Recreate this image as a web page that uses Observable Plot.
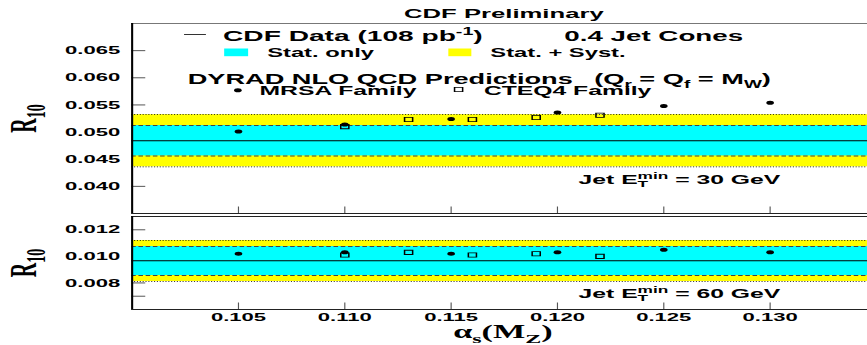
<!DOCTYPE html>
<html><head><meta charset="utf-8">
<script src="https://cdn.jsdelivr.net/npm/d3@7"></script>
<script src="https://cdn.jsdelivr.net/npm/@observablehq/plot@0.6"></script>
<style>
body{margin:0;background:#fff;overflow:hidden}
#chart svg{display:block}
</style>
</head><body><div id="chart"></div>
<script>
// ---- data ----
const xDomain = [0.100, 0.1346];
const xTicks = [0.105, 0.110, 0.115, 0.120, 0.125, 0.130];
const mrsaAlpha = [0.105, 0.110, 0.115, 0.120, 0.125, 0.130];
const cteqAlpha = [0.110, 0.113, 0.116, 0.119, 0.122];
// Jet ET min = 30 GeV
const mrsaR30 = [0.0501, 0.0514, 0.0524, 0.0536, 0.0548, 0.0554];
const cteqR30 = [0.0510, 0.0523, 0.0523, 0.0527, 0.0531];
// Jet ET min = 60 GeV
const mrsaR60 = [0.0102, 0.0103, 0.0102, 0.0103, 0.0105, 0.0103];
const cteqR60 = [0.0101, 0.0103, 0.0101, 0.0102, 0.0100];
// CDF data: [30 GeV, 60 GeV]
const cdfR10   = [0.0484, 0.00967];
const statLow  = [0.0456, 0.00856];
const statHigh = [0.0512, 0.01074];
const systLow  = [0.0436, 0.00811];
const systHigh = [0.0532, 0.01119];
// axes
const yDomain30 = [0.035, 0.070];
const yTicks30 = [0.035, 0.040, 0.045, 0.050, 0.055, 0.060, 0.065, 0.070];
const yLabels30 = [0.040, 0.045, 0.050, 0.055, 0.060, 0.065];
const yDomain60 = [0.006, 0.013];
const yTicks60 = [0.006, 0.007, 0.008, 0.009, 0.010, 0.011, 0.012, 0.013];
const yLabels60 = [0.008, 0.010, 0.012];
const etMin = [30, 60];

// ---- layout (logical units, stretched horizontally afterwards) ----
const OUTW = 867;
const W = 456;
const ML = 69;
const SANS = "Liberation Sans, Arial, sans-serif";
const SERIF = "Liberation Serif, Times New Roman, serif";

const ann = (txt, dx, dy, size, opts = {}) =>
  Plot.text([txt], {text: d => d, frameAnchor: "top-left", dx, dy, fontSize: size,
    textAnchor: "start", lineAnchor: "bottom", fill: "#000", ...opts});

function panel(i, cfg) {
  const {height, mt, mb, yDomain, yTicks, yLabels, mrsaR, cteqR, extra, topStroke} = cfg;
  const ph = height - mt - mb;
  const band = [{lo: systLow[i], hi: systHigh[i], slo: statLow[i], shi: statHigh[i], c: cdfR10[i]}];
  const mrsa = mrsaAlpha.map((a, k) => ({a, r: mrsaR[k]}));
  const cteq = cteqAlpha.map((a, k) => ({a, r: cteqR[k]}));
  const marks = [
    Plot.tickY(yTicks, {y: d => d, stroke: "#555", strokeWidth: 1, insetRight: W - ML - 7.4}),
    Plot.tickX(xTicks, {x: d => d, stroke: "#555", strokeWidth: 0.6, insetTop: ph - 6.5}),
    Plot.rect(band, {x1: () => xDomain[0], x2: () => xDomain[1], y1: d => d.lo, y2: d => d.hi, fill: "#ffff00"}),
    Plot.rect(band, {x1: () => xDomain[0], x2: () => xDomain[1], y1: d => d.slo, y2: d => d.shi, fill: "#00ffff"}),
    Plot.ruleY(band, {y: d => d.lo, stroke: "#000", strokeWidth: 0.8, strokeDasharray: "0.6,0.9"}),
    Plot.ruleY(band, {y: d => d.hi, stroke: "#000", strokeWidth: 0.8, strokeDasharray: "0.6,0.9"}),
    Plot.ruleY(band, {y: d => d.slo, stroke: "#444", strokeWidth: 1, strokeDasharray: "2.4,1.4"}),
    Plot.ruleY(band, {y: d => d.shi, stroke: "#444", strokeWidth: 1, strokeDasharray: "2.4,1.4"}),
    Plot.ruleY(band, {y: d => d.c, stroke: "#000", strokeWidth: 1}),
    Plot.dot(cteq, {x: "a", y: "r", symbol: "square", r: 2.4, stroke: "#000", fill: "none", strokeWidth: 0.8}),
    Plot.dot(mrsa, {x: "a", y: "r", r: 2, fill: "#000", stroke: "none"}),
    Plot.ruleY([yDomain[1]], {stroke: topStroke, strokeWidth: 1}),
    Plot.ruleY([yDomain[0]], {stroke: "#222", strokeWidth: 1}),
    Plot.ruleX([xDomain[0]], {stroke: "#000", strokeWidth: 1.1}),
    Plot.text(yLabels, {y: d => d, text: d => d.toFixed(3), frameAnchor: "left", textAnchor: "end",
      dx: -6.25, fontSize: 11.6, fill: "#000"}),
    Plot.text(["R_{10}"], {text: d => d, frameAnchor: "left", dx: -50.6, rotate: -90,
      fontSize: 20, fontFamily: SERIF, lineAnchor: "bottom", textAnchor: "middle", fill: "#000"}),
    ann(`Jet E^{min}_{T} = ${etMin[i]} GeV`, 234.8, cfg.etDy, 13),
    ...extra
  ];
  return Plot.plot({
    width: W, height, marginLeft: ML, marginRight: 0, marginTop: mt, marginBottom: mb,
    x: {domain: xDomain, axis: null},
    y: {domain: yDomain, axis: null},
    style: {fontFamily: SANS, fontWeight: "bold", background: "white", color: "#000", overflow: "visible"},
    marks
  });
}

const legendMarks = [
  ann("CDF Preliminary", 195.5, -5.5, 13.5, {textAnchor: "middle"}),
  Plot.frame({fill: "#333", stroke: null, insetLeft: 27.3, insetRight: W - ML - 38.8, insetTop: 10.5, insetBottom: 190 - 11.5}),
  ann("CDF Data (108 pb^{-1})", 47.8, 17.7, 14.8),
  ann("0.4 Jet Cones", 227.3, 17.7, 14.6),
  Plot.frame({fill: "#00ffff", stroke: null, insetLeft: 48.4, insetRight: W - ML - 61, insetTop: 25, insetBottom: 190 - 32.7}),
  ann("Stat. only", 71, 33.3, 12.5),
  Plot.frame({fill: "#ffff00", stroke: null, insetLeft: 166.3, insetRight: W - ML - 178.4, insetTop: 25, insetBottom: 190 - 32.7}),
  ann("Stat. + Syst.", 188.4, 33.3, 12.5),
  ann("DYRAD NLO QCD Predictions", 29.2, 60.5, 14.3),
  ann("(Q_{r} = Q_{f} = M_{W})", 243, 60.5, 14.3),
  Plot.dot([0], {frameAnchor: "top-left", dx: 55.6, dy: 66.7, r: 2, fill: "#000", stroke: "none"}),
  ann("MRSA Family", 67, 71.8, 13),
  Plot.dot([0], {frameAnchor: "top-left", dx: 171.7, dy: 66, symbol: "square", r: 2.4, stroke: "#000", fill: "none", strokeWidth: 0.8}),
  ann("CTEQ4 Family", 185, 71.5, 13)
];

const bottomExtra = [
  Plot.text(xTicks, {x: d => d, text: d => d.toFixed(3), frameAnchor: "bottom", dy: 11, fontSize: 11.6, fill: "#000"}),
  Plot.text(["α_{s}(M_{Z})"], {text: d => d, frameAnchor: "bottom", dx: 1.5, dy: 28.5, lineAnchor: "bottom",
    fontFamily: SERIF, fontSize: 18, textAnchor: "middle", fill: "#000"})
];

// turn ^{..} and _{..} into raised/lowered tspans
function rich(svg) {
  svg.querySelectorAll("text").forEach(t => {
    const s = t.textContent;
    if (!/[\^_]\{/.test(s)) return;
    const fs = parseFloat(getComputedStyle(t).fontSize) || 12;
    while (t.firstChild) t.removeChild(t.firstChild);
    const tokens = [];
    const re = /([\^_])\{([^}]*)\}/g;
    let last = 0, m;
    while ((m = re.exec(s))) {
      if (m.index > last) tokens.push({k: "n", s: s.slice(last, m.index)});
      tokens.push({k: m[1] === "^" ? "sup" : "sub", s: m[2]});
      last = re.lastIndex;
    }
    if (last < s.length) tokens.push({k: "n", s: s.slice(last)});
    let cur = 0, prev = null, prevLen = 0, pendingDx = 0;
    for (const tok of tokens) {
      const ts = document.createElementNS("http://www.w3.org/2000/svg", "tspan");
      const target = tok.k === "sup" ? -0.4 * fs : tok.k === "sub" ? 0.25 * fs : 0;
      ts.setAttribute("dy", (target - cur).toFixed(2));
      cur = target;
      if (tok.k !== "n") ts.setAttribute("font-size", (0.7 * fs).toFixed(2));
      let dx = 0;
      if (tok.k === "sub" && prev && prev.k === "sup") dx = -prevLen;
      else if (pendingDx) dx = pendingDx;
      pendingDx = 0;
      if (dx) ts.setAttribute("dx", dx.toFixed(2));
      ts.textContent = tok.s;
      t.appendChild(ts);
      const len = ts.getComputedTextLength();
      if (tok.k === "sub" && prev && prev.k === "sup") pendingDx = Math.max(0, prevLen - len);
      prev = tok; prevLen = len;
    }
  });
}

const svgTop = panel(0, {height: 215, mt: 23, mb: 2, yDomain: yDomain30, yTicks: yTicks30, yLabels: yLabels30,
  mrsaR: mrsaR30, cteqR: cteqR30, extra: legendMarks, topStroke: "#777", etDy: 160.3});
const svgBot = panel(1, {height: 130, mt: 1, mb: 36, yDomain: yDomain60, yTicks: yTicks60, yLabels: yLabels60,
  mrsaR: mrsaR60, cteqR: cteqR60, extra: bottomExtra, topStroke: "#222", etDy: 81.3});

const holder = document.getElementById("chart");
for (const [svg, h] of [[svgTop, 215], [svgBot, 130]]) {
  svg.setAttribute("viewBox", `0 0 ${W} ${h}`);
  svg.setAttribute("preserveAspectRatio", "none");
  svg.setAttribute("width", OUTW);
  svg.setAttribute("height", h);
  svg.style.width = OUTW + "px";
  svg.style.height = h + "px";
  svg.style.maxWidth = "none";
  holder.appendChild(svg);
  rich(svg);
}
</script>
</body></html>
